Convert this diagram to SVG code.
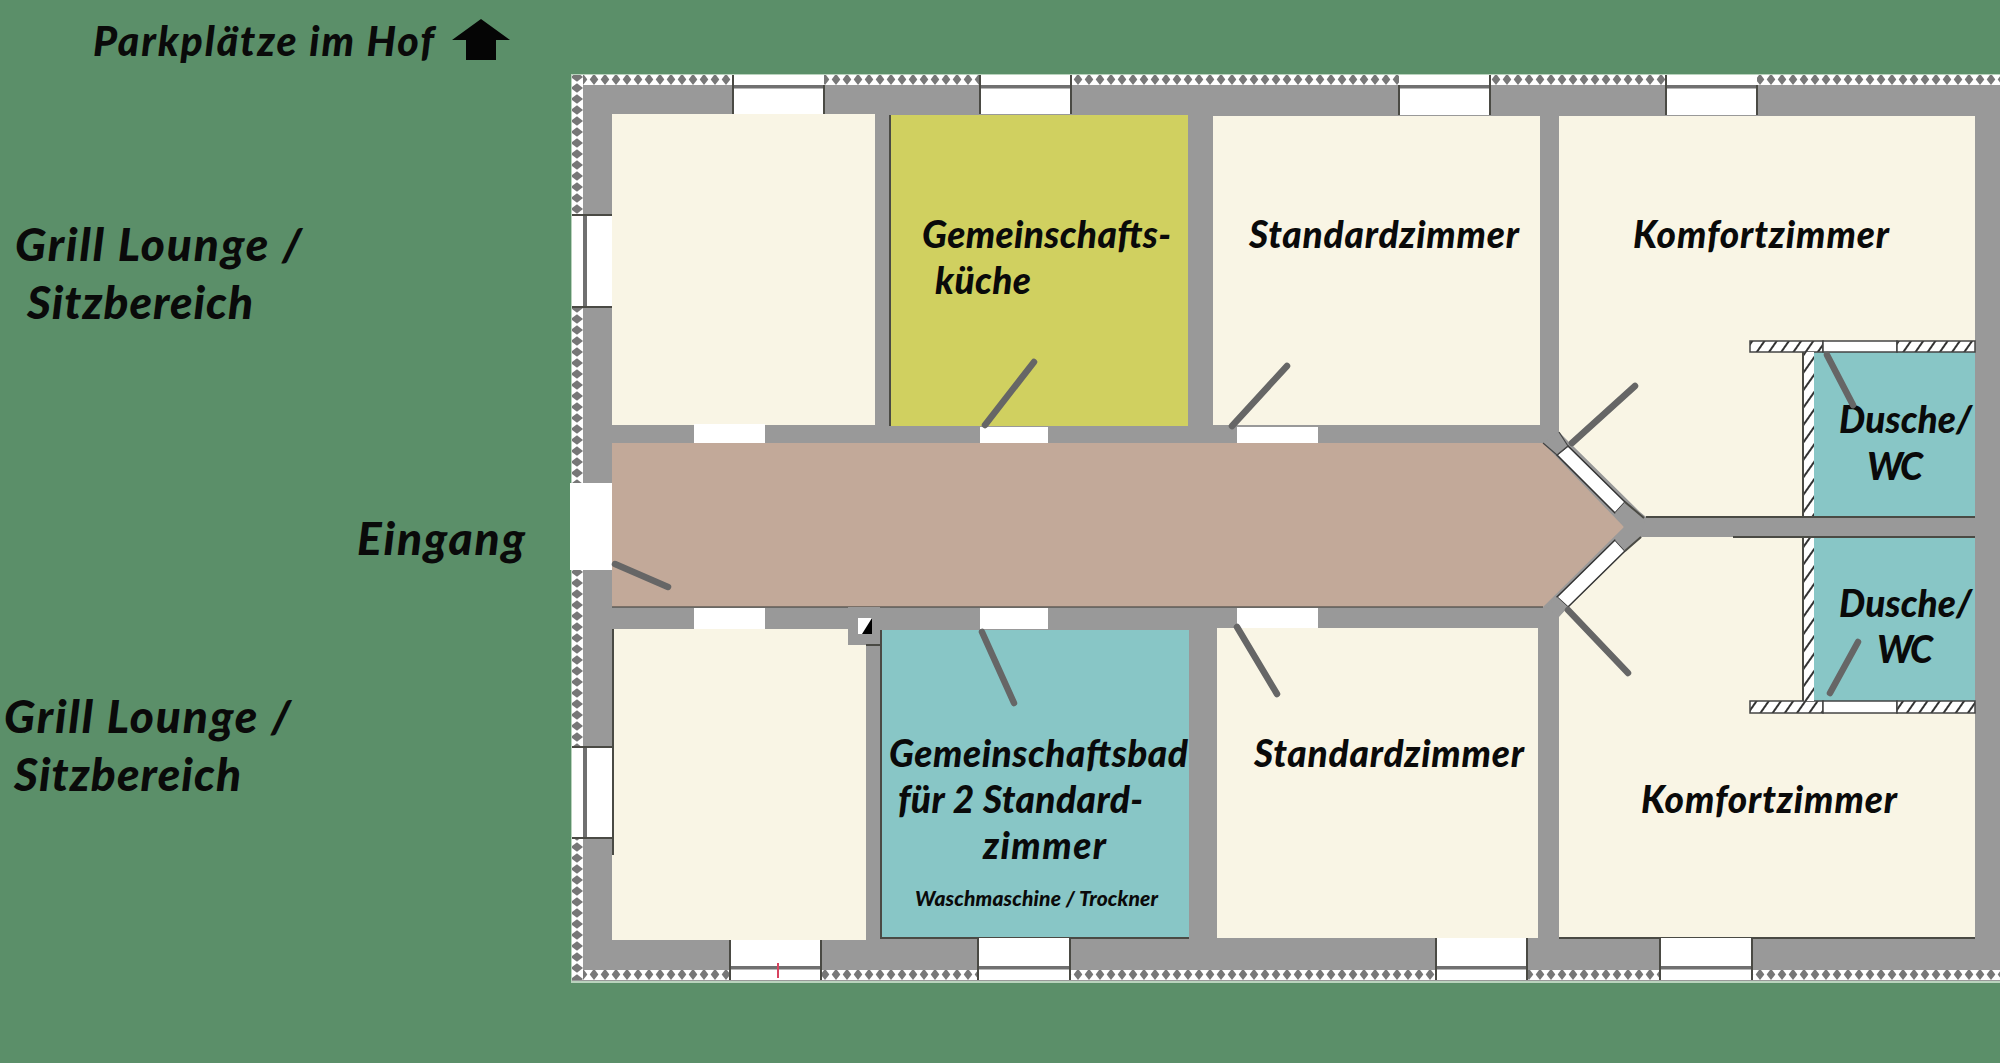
<svg xmlns="http://www.w3.org/2000/svg" width="2000" height="1063" viewBox="0 0 2000 1063">
<defs>
<style>
.wall{fill:#999999}
.cream{fill:#F9F5E5}
.teal{fill:#88C6C6}
.win{fill:#FFFFFF}
.sash{fill:#707070}
.edge{fill:none;stroke:#4a4a44;stroke-width:2}
.leaf{fill:none;stroke:#666666;stroke-width:6.5;stroke-linecap:round}
.hatchbox{stroke:#444444;stroke-width:1.5}
text{font-family:Lato,"Open Sans","Liberation Sans",sans-serif;font-weight:900;font-style:italic;fill:#0a0a0a}
.lg{font-size:46px}
.md{font-size:37px}
</style>
<pattern id="insH" width="11" height="10" patternUnits="userSpaceOnUse" x="0" y="75">
<rect width="11" height="10" fill="#777777"/>
<path d="M0 10L5.5 3L11 10Z" fill="#ffffff"/>
<path d="M1 0H10L5.5 6Z" fill="#ffffff"/>
</pattern>
<pattern id="insH2" width="11" height="10" patternUnits="userSpaceOnUse" x="0" y="970">
<rect width="11" height="10" fill="#777777"/>
<path d="M0 10L5.5 3L11 10Z" fill="#ffffff"/>
<path d="M1 0H10L5.5 6Z" fill="#ffffff"/>
</pattern>
<pattern id="insV" width="11" height="11" patternUnits="userSpaceOnUse" x="572" y="0">
<rect width="11" height="11" fill="#777777"/>
<path d="M0 1V10L6 5.5Z" fill="#ffffff"/>
<path d="M11 0V11L4 5.5Z" fill="#ffffff"/>
</pattern>
<pattern id="hatch" width="10" height="10" patternUnits="userSpaceOnUse" patternTransform="rotate(35)">
<rect width="10" height="10" fill="#ffffff"/>
<rect width="2" height="10" fill="#333333"/>
</pattern>
</defs>
<rect width="2000" height="1063" fill="#5B8F69"/>

<g id="building">
<rect x="571" y="74" width="1429" height="909" fill="#B9D3BD"/>
<rect x="572" y="75" width="1428" height="906" class="wall"/>
<rect x="572" y="75" width="1428" height="10" fill="url(#insH)"/>
<rect x="572" y="970" width="1428" height="10" fill="url(#insH2)"/>
<rect x="572" y="75" width="11" height="905" fill="url(#insV)"/>
</g>

<g id="room-northwest"><rect x="612" y="114" width="263" height="311" class="cream"/></g>
<g id="room-kitchen">
<rect x="890" y="115" width="298" height="311" fill="#D0D060"/>
<path d="M890 115V426" class="edge"/>
<text class="md" x="922" y="248" textLength="249">Gemeinschafts-</text>
<text class="md" x="935" y="294" textLength="96">küche</text>
</g>
<g id="room-standard-north">
<rect x="1213" y="116" width="327" height="309" class="cream"/>
<text class="md" x="1249" y="248" textLength="270">Standardzimmer</text>
</g>
<g id="room-komfort-north">
<path d="M1559 116H1975V341H1750V352H1803V517H1646L1640 512L1570 443L1559 432Z" class="cream"/>
<text class="md" x="1633" y="248" textLength="256">Komfortzimmer</text>
</g>
<g id="room-corridor">
<path d="M612 443H1543L1624 527L1543 607H612Z" fill="#C2A999"/>
<path d="M612 607H1543" class="edge" stroke-opacity=".6"/>
</g>
<g id="room-southwest">
<path d="M614 629H866V940H612V855H614Z" class="cream"/>
<path d="M613 629V855" class="edge"/>
</g>
<g id="room-bath">
<rect x="881" y="630" width="308" height="308" class="teal"/>
<path d="M881 630V938H1189" class="edge"/>
<text class="md" x="889" y="767" textLength="299">Gemeinschaftsbad</text>
<text class="md" x="898" y="813" textLength="245">für 2 Standard-</text>
<text class="md" x="983" y="859" textLength="123">zimmer</text>
<text x="915" y="906" font-size="21" textLength="243">Waschmaschine / Trockner</text>
</g>
<g id="room-standard-south">
<rect x="1217" y="628" width="321" height="310" class="cream"/>
<text class="md" x="1254" y="767" textLength="270">Standardzimmer</text>
</g>
<g id="room-komfort-south">
<path d="M1559 938H1975V713H1750V701H1803V537H1642L1625 551L1568 607L1559 616Z" class="cream"/>
<path d="M1559 938H1975" class="edge"/>
<text class="md" x="1641" y="813" textLength="256">Komfortzimmer</text>
</g>

<g id="bath-north">
<rect x="1814" y="352" width="161" height="165" class="teal"/>
<rect x="1750" y="341" width="73" height="11" fill="url(#hatch)" class="hatchbox"/>
<rect x="1823" y="341" width="74" height="11" fill="#ffffff" class="hatchbox"/>
<rect x="1897" y="341" width="78" height="11" fill="url(#hatch)" class="hatchbox"/>
<rect x="1803" y="352" width="11" height="165" fill="url(#hatch)"/>
<path d="M1803 352V517" class="edge" stroke-width="1.5"/>
<text class="md" x="1839" y="433" textLength="133">Dusche/</text>
<text class="md" x="1867" y="480" textLength="56">WC</text>
</g>
<g id="bath-south">
<rect x="1814" y="538" width="161" height="163" class="teal"/>
<rect x="1750" y="701" width="73" height="12" fill="url(#hatch)" class="hatchbox"/>
<rect x="1823" y="701" width="74" height="12" fill="#ffffff" class="hatchbox"/>
<rect x="1897" y="701" width="78" height="12" fill="url(#hatch)" class="hatchbox"/>
<rect x="1803" y="538" width="11" height="163" fill="url(#hatch)"/>
<path d="M1803 538V701" class="edge" stroke-width="1.5"/>
<text class="md" x="1839" y="617" textLength="133">Dusche/</text>
<text class="md" x="1877" y="663" textLength="56">WC</text>
</g>
<path d="M1733 537H1975M1646 517H1975" class="edge" stroke-width="1.5"/>

<g id="diagonal-doors">
<path d="M1557 455L1568 446L1625 502L1615 513Z" fill="#fff" stroke="#333" stroke-width="1.5"/>
<path d="M1615 540L1625 551L1568 607L1557 597Z" fill="#fff" stroke="#333" stroke-width="1.5"/>
<path d="M1543 443L1557 455L1568 446L1559 432" fill="#999" stroke="#444" stroke-width="1.2"/>
<path d="M1625 502L1615 513L1624 527L1615 540L1625 551L1640 537L1646 517Z" fill="#999"/>
<path d="M1625 502L1644 518M1625 551L1641 537" class="edge" stroke-width="1.5"/>
<path d="M1557 597L1568 607L1559 617L1546 607Z" fill="#999"/>
</g>

<g id="interior-openings">
<rect x="694" y="424" width="71" height="19" class="win"/>
<rect x="980" y="427" width="68" height="16" class="win"/>
<rect x="1237" y="427" width="81" height="16" class="win"/>
<rect x="694" y="608" width="71" height="21" class="win"/>
<rect x="980" y="608" width="68" height="21" class="win"/>
<rect x="1237" y="608" width="81" height="20" class="win"/>
<rect x="570" y="483" width="42" height="87" class="win"/>
</g>

<g id="windows-north">
<rect x="733" y="75" width="91" height="39" class="win"/>
<rect x="980" y="75" width="91" height="39" class="win"/>
<rect x="1399" y="75" width="91" height="40" class="win"/>
<rect x="1666" y="75" width="91" height="40" class="win"/>
<rect x="733" y="85" width="91" height="3.5" class="sash"/>
<rect x="980" y="85" width="91" height="3.5" class="sash"/>
<rect x="1399" y="85" width="91" height="3.5" class="sash"/>
<rect x="1666" y="85" width="91" height="3.5" class="sash"/>
<path d="M733 75V114M824 85V114M980 75V114M1071 75V114M1399 85V115M1490 75V115M1666 75V115M1757 85V115" class="edge" stroke-width="1.5"/>
</g>
<g id="windows-south">
<rect x="730" y="940" width="91" height="40" class="win"/>
<rect x="978" y="938" width="92" height="42" class="win"/>
<rect x="1436" y="938" width="91" height="42" class="win"/>
<rect x="1660" y="938" width="92" height="42" class="win"/>
<rect x="730" y="966" width="91" height="3.5" class="sash"/>
<rect x="978" y="966" width="92" height="3.5" class="sash"/>
<rect x="1436" y="966" width="91" height="3.5" class="sash"/>
<rect x="1660" y="966" width="92" height="3.5" class="sash"/>
<path d="M730 940V980M821 940V980M978 938V980M1070 938V980M1436 938V980M1527 938V980M1660 938V980M1752 938V980" class="edge" stroke-width="1.5"/>
<path d="M778 963V978" stroke="#D8435F" stroke-width="2"/>
</g>
<g id="windows-west">
<rect x="572" y="215" width="40" height="92" class="win"/>
<rect x="572" y="747" width="40" height="91" class="win"/>
<rect x="583" y="215" width="4" height="92" class="sash"/>
<rect x="583" y="747" width="4" height="91" class="sash"/>
<path d="M572 215H612M572 307H612M572 747H612M572 838H612" class="edge" stroke-width="1.5"/>
</g>

<g id="shaft">
<rect x="848" y="607" width="32" height="38" class="wall"/>
<path d="M866 645H880" class="edge" stroke-width="1.5"/>
<rect x="858" y="618" width="14" height="16" fill="#fff"/>
<path d="M872 618V634H862Z" fill="#000"/>
</g>

<g id="door-leaves">
<path d="M985 425L1034 362" class="leaf"/>
<path d="M1232 426L1287 366" class="leaf"/>
<path d="M615 564L668 587" class="leaf"/>
<path d="M982 632L1014 703" class="leaf"/>
<path d="M1237 627L1277 694" class="leaf"/>
<path d="M1572 443L1635 386" class="leaf"/>
<path d="M1568 610L1628 673" class="leaf"/>
<path d="M1827 355L1853 405" class="leaf"/>
<path d="M1858 642L1830 693" class="leaf"/>
</g>

<g id="labels">
<text x="93" y="56" font-size="41" textLength="341">Parkplätze im Hof</text>
<path d="M481 19L510 40H496V60H466V40H452Z" fill="#050505"/>
<text class="lg" x="15" y="261" textLength="287">Grill Lounge /</text>
<text class="lg" x="27" y="319" textLength="226">Sitzbereich</text>
<text class="lg" x="4" y="733" textLength="287">Grill Lounge /</text>
<text class="lg" x="14" y="791" textLength="227">Sitzbereich</text>
<text class="lg" x="357" y="555" textLength="168">Eingang</text>
</g>
</svg>
